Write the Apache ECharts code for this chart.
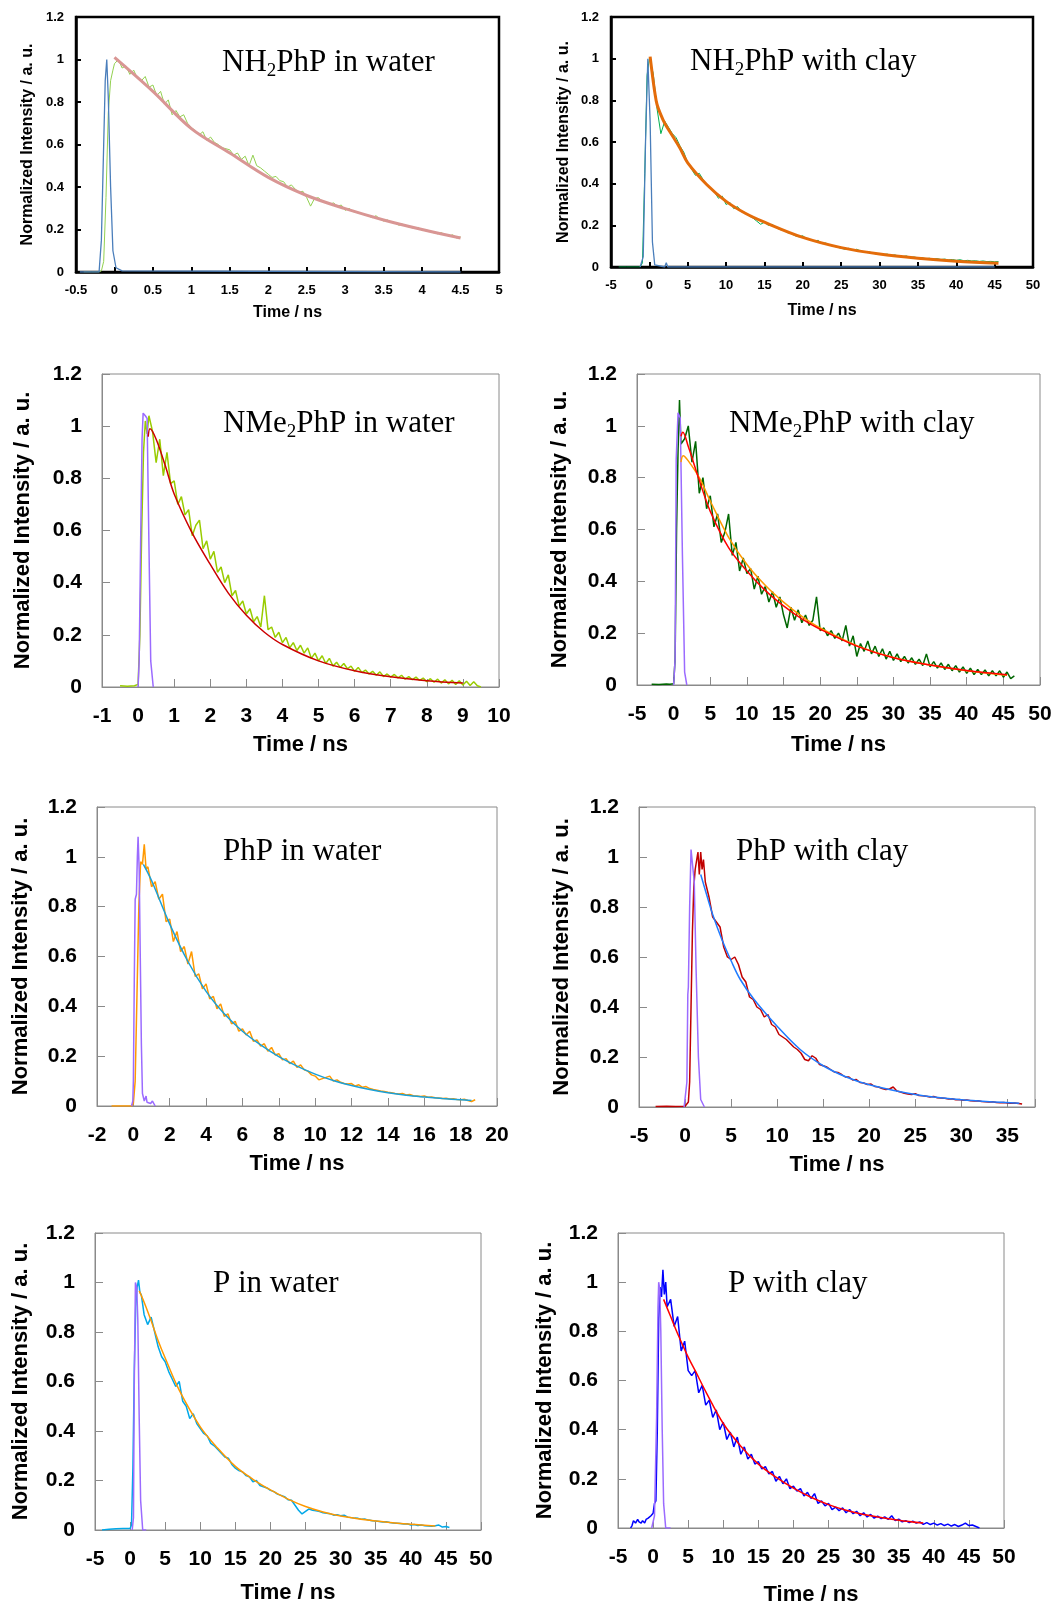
<!DOCTYPE html>
<html><head><meta charset="utf-8">
<script src="https://cdn.jsdelivr.net/npm/echarts@6/dist/echarts.min.js"></script>
<style>html,body{margin:0;padding:0;background:#fff}#c{width:1064px;height:1607px}</style>
</head><body><div id="c"></div>
<script>
// ---------- Panel 1: NH2PhP in water ----------
const p1IrfT = [-0.45,-0.2,-0.17,-0.14,-0.12,-0.1,-0.08,-0.05,-0.02,0.02,0.1,4.5];
const p1IrfY = [0,0,0.15,0.6,0.9,1.0,0.82,0.4,0.1,0.02,0.005,0];
const p1DataT = [-0.4,-0.3,-0.2,-0.17,-0.14,-0.11,-0.08,-0.05,-0.02,
 0,0.05,0.1,0.15,0.2,0.25,0.3,0.35,0.4,0.45,0.5,0.55,0.6,0.65,0.7,0.75,0.8,0.85,0.9,0.95,
 1,1.05,1.1,1.15,1.2,1.25,1.3,1.35,1.4,1.45,1.5,1.55,1.6,1.65,1.7,1.75,1.8,1.85,1.9,1.95,
 2,2.05,2.1,2.15,2.2,2.25,2.3,2.35,2.4,2.45,2.5,2.55,2.6,2.65,2.7,2.75,2.8,2.85,2.9,2.95,
 3,3.05,3.1,3.15,3.2,3.25,3.3,3.35,3.4,3.45,3.5,3.55,3.6,3.65,3.7,3.75,3.8,3.85,3.9,3.95,
 4,4.05,4.1,4.15,4.2,4.25,4.3,4.35,4.4,4.45,4.5];
const p1DataY = [0,0,0,0.005,0.05,0.35,0.75,0.9,0.95,
 0.98,1.00,0.96,0.97,0.93,0.95,0.91,0.90,0.92,0.87,
 0.88,0.83,0.85,0.79,0.81,0.74,0.76,0.73,0.74,0.70,
 0.68,0.665,0.645,0.66,0.62,0.635,0.61,0.60,0.585,0.58,
 0.575,0.55,0.56,0.53,0.545,0.50,0.55,0.50,0.49,0.475,
 0.46,0.445,0.45,0.43,0.425,0.40,0.41,0.39,0.375,0.38,
 0.35,0.31,0.345,0.35,0.335,0.33,0.32,0.325,0.31,0.315,
 0.29,0.30,0.285,0.28,0.275,0.27,0.265,0.255,0.265,0.25,
 0.24,0.245,0.235,0.23,0.22,0.225,0.215,0.21,0.205,0.21,
 0.195,0.20,0.19,0.185,0.18,0.185,0.175,0.17,0.175,0.16,
 0.165];
const p1FitT = [0,0.5,1,1.5,2,2.5,3,3.5,4,4.5];
const p1FitY = [1.01,0.85,0.675,0.56,0.445,0.36,0.298,0.245,0.2,0.16];

// ---------- Panel 2: NH2PhP with clay ----------
const p2IrfT = [-1.2,-0.8,-0.5,-0.2,0.1,0.4,0.7,2.0,2.2,2.4,45];
const p2IrfY = [0,0.05,0.6,1.0,0.7,0.12,0.01,0,0.02,0,0];
const p2DataT = [-4,-3,-2,-1.2,-0.9,-0.6,-0.3,0,
 0.5,1,1.5,2,2.5,3,3.5,4,4.5,5,5.5,6,6.5,7,7.5,8,8.5,9,9.5,10,
 10.5,11,11.5,12,12.5,13,13.5,14,14.5,15,15.5,16,16.5,17,17.5,18,18.5,19,19.5,20,
 20.5,21,21.5,22,22.5,23,23.5,24,24.5,25,25.5,26,26.5,27,27.5,28,28.5,29,29.5,30,
 30.5,31,31.5,32,32.5,33,33.5,34,34.5,35,35.5,36,36.5,37,37.5,38,38.5,39,39.5,40,
 40.5,41,41.5,42,42.5,43,43.5,44,44.5,45,45.5];
const p2DataY = [0,0,0,0,0.02,0.45,0.92,1.0,
 0.93,0.76,0.64,0.70,0.67,0.64,0.62,0.58,0.55,0.50,
 0.47,0.44,0.45,0.42,0.39,0.38,0.36,0.33,0.34,0.30,
 0.31,0.28,0.29,0.265,0.26,0.245,0.235,0.22,0.205,0.215,
 0.20,0.205,0.19,0.18,0.175,0.165,0.16,0.15,0.145,0.15,
 0.135,0.13,0.125,0.128,0.112,0.115,0.105,0.10,0.095,0.09,
 0.085,0.09,0.08,0.085,0.078,0.072,0.075,0.068,0.063,0.065,
 0.06,0.062,0.055,0.058,0.052,0.05,0.053,0.046,0.048,0.044,
 0.045,0.04,0.042,0.038,0.04,0.036,0.038,0.034,0.036,0.032,
 0.035,0.03,0.032,0.029,0.03,0.027,0.029,0.026,0.027,0.025,
 0.026];
const p2FitT = [0.1,0.4,0.7,1,1.5,2,3,4,5,7.5,10,12.5,15,20,25,30,35,40,45.5];
const p2FitY = [1.01,0.92,0.84,0.78,0.73,0.69,0.63,0.57,0.5,0.395,0.315,0.258,0.215,0.142,0.093,0.062,0.042,0.028,0.018];

// ---------- Panel 3: NMe2PhP in water ----------
const p3IrfT = [0,0.03,0.07,0.11,0.14,0.2,0.25,0.3,0.35,0.42];
const p3IrfY = [0,0.1,0.55,0.95,1.05,1.04,1.03,0.55,0.1,0];
const p3DataT = [-0.5,-0.3,-0.1,0,0.05,0.1,0.15,0.2,0.25,0.3,
 0.4,0.5,0.6,0.7,0.8,0.9,1,1.1,1.2,1.3,
 1.4,1.5,1.6,1.7,1.8,1.9,2,2.1,2.2,2.3,
 2.4,2.5,2.6,2.7,2.8,2.9,3,3.1,3.2,3.3,
 3.4,3.5,3.6,3.7,3.8,3.9,4,4.1,4.2,4.3,
 4.4,4.5,4.6,4.7,4.8,4.9,5,5.1,5.2,5.3,
 5.4,5.5,5.6,5.7,5.8,5.9,6,6.1,6.2,6.3,
 6.4,6.5,6.6,6.7,6.8,6.9,7,7.1,7.2,7.3,
 7.4,7.5,7.6,7.7,7.8,7.9,8,8.1,8.2,8.3,
 8.4,8.5,8.6,8.7,8.8,8.9,9,9.1,9.2,9.3,
 9.4,9.5];
const p3DataY = [0.005,0.003,0.005,0.01,0.2,0.6,0.9,1.02,0.97,1.04,
 0.98,0.86,0.95,0.81,0.90,0.78,0.79,0.70,0.73,0.66,
 0.68,0.58,0.62,0.64,0.53,0.56,0.49,0.52,0.44,0.46,
 0.40,0.43,0.35,0.37,0.31,0.33,0.28,0.30,0.25,0.27,
 0.23,0.35,0.22,0.23,0.19,0.21,0.17,0.19,0.15,0.17,
 0.14,0.16,0.13,0.15,0.11,0.13,0.10,0.12,0.09,0.11,
 0.08,0.095,0.075,0.09,0.07,0.08,0.06,0.075,0.055,0.065,
 0.05,0.06,0.045,0.058,0.04,0.05,0.038,0.048,0.035,0.045,
 0.03,0.04,0.028,0.038,0.025,0.034,0.02,0.032,0.018,0.03,
 0.015,0.028,0.012,0.026,0.01,0.024,0.008,0.022,0.006,0.02,
 0.005,0.0];
const p3FitT = [0.28,0.33,0.5,0.75,1,1.5,2,2.5,3,3.5,4,5,6,7,8,9];
const p3FitY = [0.96,0.99,0.95,0.85,0.74,0.59,0.47,0.36,0.275,0.21,0.163,0.1,0.062,0.039,0.024,0.015];

// ---------- Panel 4: NMe2PhP with clay ----------
const p4IrfT = [0,0.2,0.35,0.6,0.9,1.2,1.5,1.8];
const p4IrfY = [0,0.1,0.87,1.05,1.03,0.5,0.05,0];
const p4DataT = [-3,-2,-1,-0.5,0,0.2,0.4,0.6,0.8,1.0,
 1.5,2,2.5,3,3.5,4,4.5,5,5.5,6,
 6.5,7,7.5,8,8.5,9,9.5,10,10.5,11,
 11.5,12,12.5,13,13.5,14,14.5,15,15.5,16,
 16.5,17,17.5,18,18.5,19,19.5,20,20.5,21,
 21.5,22,22.5,23,23.5,24,24.5,25,25.5,26,
 26.5,27,27.5,28,28.5,29,29.5,30,30.5,31,
 31.5,32,32.5,33,33.5,34,34.5,35,35.5,36,
 36.5,37,37.5,38,38.5,39,39.5,40,40.5,41,
 41.5,42,42.5,43,43.5,44,44.5,45,45.5,46,
 46.5];
const p4DataY = [0.003,0.002,0.004,0.003,0.005,0.1,0.6,0.9,1.1,0.93,
 0.95,1.0,0.86,0.94,0.74,0.80,0.68,0.73,0.61,0.66,
 0.55,0.59,0.66,0.50,0.55,0.44,0.49,0.43,0.45,0.37,
 0.42,0.35,0.38,0.32,0.36,0.30,0.34,0.27,0.22,0.30,
 0.25,0.29,0.24,0.27,0.23,0.25,0.34,0.21,0.22,0.19,
 0.21,0.18,0.20,0.17,0.23,0.15,0.19,0.11,0.16,0.13,
 0.17,0.12,0.15,0.11,0.14,0.10,0.13,0.095,0.12,0.09,
 0.11,0.085,0.105,0.08,0.10,0.075,0.12,0.07,0.09,0.065,
 0.085,0.06,0.08,0.055,0.075,0.05,0.07,0.045,0.065,0.04,
 0.06,0.04,0.058,0.035,0.055,0.035,0.055,0.03,0.05,0.025,
 0.035];
const p4FitRedT = [1.0,1.25,2,3.5,5,7.5,10,12.5,15,17.5,20,25,30,35,40,45.5];
const p4FitRedY = [0.96,0.975,0.92,0.79,0.67,0.53,0.44,0.365,0.305,0.255,0.215,0.15,0.105,0.077,0.056,0.04];
const p4FitOrgT = [1.0,1.3,2,3.5,5,7.5,10,12.5,15,17.5,20,25,30,35,40,45.5];
const p4FitOrgY = [0.86,0.885,0.865,0.8,0.71,0.57,0.465,0.385,0.32,0.265,0.22,0.152,0.106,0.077,0.055,0.038];

// ---------- Panel 5: PhP in water ----------
const p5IrfT = [-0.1,-0.03,0.0,0.05,0.1,0.17,0.22,0.26,0.32,0.38,0.44,0.5,0.6,0.7,0.75,0.85,0.95,1.05,1.15,1.2];
const p5IrfY = [0,0.02,0.1,0.5,0.83,0.85,1.0,1.08,0.95,0.6,0.25,0.05,0.02,0.04,0.015,0.02,0.01,0.02,0.015,0];
const p5DataT = [-1.2,-0.6,-0.1,0,0.1,0.2,0.3,0.4,0.5,0.6,0.7,
 0.8,1,1.2,1.4,1.6,1.8,2,2.2,2.4,2.6,
 2.8,3,3.2,3.4,3.6,3.8,4,4.2,4.4,4.6,
 4.8,5,5.2,5.4,5.6,5.8,6,6.2,6.4,6.6,
 6.8,7,7.2,7.4,7.6,7.8,8,8.2,8.4,8.6,
 8.8,9,9.2,9.4,9.6,9.8,10,10.2,10.4,10.6,
 10.8,11,11.2,11.4,11.6,11.8,12,12.2,12.4,12.6,
 12.8,13,13.2,13.4,13.6,13.8,14,14.2,14.4,14.6,
 14.8,15,15.2,15.4,15.6,15.8,16,16.2,16.4,16.6,
 16.8,17,17.2,17.4,17.6,17.8,18,18.2,18.4,18.6,
 18.8];
const p5DataY = [0,0,0,0.01,0.1,0.45,0.8,0.98,0.97,1.05,0.95,
 0.96,0.88,0.90,0.83,0.85,0.74,0.75,0.66,0.70,0.62,
 0.64,0.57,0.62,0.52,0.53,0.47,0.49,0.43,0.44,0.39,
 0.41,0.36,0.37,0.33,0.34,0.30,0.31,0.285,0.30,0.26,
 0.265,0.24,0.25,0.22,0.235,0.205,0.21,0.185,0.19,0.17,
 0.18,0.155,0.165,0.145,0.14,0.125,0.12,0.105,0.11,0.115,
 0.12,0.10,0.105,0.095,0.09,0.088,0.09,0.08,0.085,0.075,
 0.078,0.07,0.066,0.063,0.06,0.058,0.055,0.053,0.05,0.048,
 0.05,0.044,0.046,0.041,0.04,0.038,0.04,0.035,0.036,0.033,
 0.032,0.03,0.031,0.028,0.029,0.026,0.025,0.027,0.022,0.018,
 0.025];
const p5FitT = [0.55,1,2,3,4,5,6,7,8,9,10,11,12,13,14,15,16,17,18,18.6];
const p5FitY = [0.97,0.905,0.73,0.58,0.46,0.37,0.30,0.245,0.198,0.16,0.128,0.102,0.082,0.066,0.053,0.043,0.036,0.03,0.025,0.022];

// ---------- Panel 6: PhP with clay ----------
const p6IrfT = [-0.1,0.2,0.3,0.36,0.5,0.65,0.8,1.0,1.2,1.45,1.7,2.1];
const p6IrfY = [0,0.1,0.45,0.48,0.8,1.03,1.03,0.9,0.55,0.2,0.03,0];
const p6DataT = [-3.2,-2,-1,0,0.36,0.5,0.65,0.8,0.95,1.1,1.25,1.4,1.55,1.7,1.85,2.0,2.2,
 2.6,3,3.4,3.8,4.2,4.6,5,5.4,5.8,6.2,
 6.6,7,7.4,7.8,8.2,8.6,9,9.4,9.8,10.2,
 10.6,11,11.4,11.8,12.2,12.6,13,13.4,13.8,14.2,
 14.6,15,15.4,15.8,16.2,16.6,17,17.4,17.8,18.2,
 18.6,19,19.4,19.8,20.2,20.6,21,21.4,21.8,22.2,
 22.6,23,23.4,23.8,24.2,24.6,25,25.4,25.8,26.2,
 26.6,27,27.4,27.8,28.2,28.6,29,29.4,29.8,30.2,
 30.6,31,31.4,31.8,32.2,32.6,33,33.4,33.8,34.2,
 34.6,35,35.4,35.8,36.2,36.6];
const p6DataY = [0.002,0.003,0.002,0.003,0.02,0.1,0.4,0.7,0.88,0.95,0.95,1.02,0.93,1.02,0.95,0.99,0.9,
 0.84,0.76,0.74,0.72,0.64,0.60,0.59,0.60,0.57,0.52,
 0.50,0.44,0.43,0.40,0.39,0.36,0.37,0.33,0.32,0.29,
 0.28,0.27,0.255,0.24,0.23,0.215,0.19,0.185,0.205,0.195,
 0.17,0.165,0.16,0.15,0.14,0.138,0.13,0.12,0.12,0.108,
 0.11,0.098,0.096,0.09,0.092,0.082,0.08,0.074,0.07,0.072,
 0.08,0.064,0.06,0.055,0.052,0.05,0.053,0.046,0.045,0.043,
 0.04,0.042,0.037,0.036,0.035,0.032,0.033,0.029,0.03,0.027,
 0.028,0.025,0.024,0.025,0.022,0.021,0.02,0.021,0.018,0.017,
 0.018,0.016,0.015,0.016,0.014,0.012];
const p6FitT = [1.7,2.5,3,4,5,6,7.5,10,12.5,15,17.5,20,25,30,36.3];
const p6FitY = [0.93,0.83,0.77,0.67,0.585,0.51,0.43,0.323,0.23,0.165,0.12,0.089,0.05,0.029,0.015];

// ---------- Panel 7: P in water ----------
const p7IrfT = [0.3,0.48,0.6,0.76,0.95,1.1,1.3,1.5,1.8,2.3];
const p7IrfY = [0,0.05,0.6,1.0,0.98,0.85,0.45,0.12,0,0];
const p7DataT = [-4,-3,-2,-1,0,0.2,0.4,0.6,0.8,1.0,1.2,1.4,1.6,
 2,2.5,3,3.5,4,4.5,5,5.5,6,6.5,
 7,7.5,8,8.5,9,9.5,10,10.5,11,11.5,
 12,12.5,13,13.5,14,14.5,15,15.5,16,16.5,
 17,17.5,18,18.5,19,19.5,20,20.5,21,21.5,
 22,22.5,23,23.5,24,24.5,25,25.5,26,26.5,
 27,27.5,28,28.5,29,29.5,30,30.5,31,31.5,
 32,32.5,33,33.5,34,34.5,35,35.5,36,36.5,
 37,37.5,38,38.5,39,39.5,40,40.5,41,41.5,
 42,42.5,43,43.5,44,44.5,45,45.5];
const p7DataY = [0,0.003,0.005,0.006,0.006,0.02,0.25,0.65,0.9,0.98,1.01,0.96,0.95,
 0.87,0.83,0.86,0.80,0.74,0.70,0.68,0.64,0.61,0.58,
 0.60,0.52,0.50,0.45,0.47,0.43,0.41,0.39,0.38,0.35,
 0.34,0.325,0.31,0.295,0.29,0.265,0.25,0.24,0.235,0.22,
 0.215,0.195,0.2,0.18,0.175,0.17,0.16,0.155,0.145,0.14,
 0.135,0.122,0.12,0.1,0.08,0.065,0.075,0.085,0.08,0.078,
 0.075,0.07,0.068,0.066,0.06,0.062,0.058,0.06,0.052,0.05,
 0.048,0.047,0.043,0.044,0.04,0.037,0.036,0.034,0.032,0.033,
 0.03,0.028,0.027,0.026,0.024,0.025,0.02,0.022,0.018,0.02,
 0.017,0.016,0.015,0.017,0.02,0.012,0.014,0.01];
const p7FitT = [1.3,2,3,4,5,7,10,12.5,15,17.5,20,22.5,25,27.5,30,35,40,43.5];
const p7FitY = [0.966,0.92,0.845,0.765,0.695,0.565,0.417,0.33,0.257,0.205,0.162,0.125,0.095,0.073,0.057,0.036,0.023,0.016];

// ---------- Panel 8: P with clay ----------
const p8IrfT = [-0.2,0.2,0.5,0.7,0.8,0.95,1.1,1.3,1.5,1.8,2.5];
const p8IrfY = [0,0.05,0.45,0.9,1.0,0.97,0.8,0.4,0.1,0,0];
const p8DataT = [-3.2,-3,-2.8,-2.5,-2.2,-2,-1.7,-1.5,-1.2,-1,-0.7,-0.5,-0.3,0,0.2,0.4,0.6,0.8,1.0,1.2,1.4,1.6,1.8,2.0,
 2.5,3,3.5,4,4.5,5,5.5,6,6.5,7,
 7.5,8,8.5,9,9.5,10,10.5,11,11.5,12,
 12.5,13,13.5,14,14.5,15,15.5,16,16.5,17,
 17.5,18,18.5,19,19.5,20,20.5,21,21.5,22,
 22.5,23,23.5,24,24.5,25,25.5,26,26.5,27,
 27.5,28,28.5,29,29.5,30,30.5,31,31.5,32,
 32.5,33,33.5,34,34.5,35,35.5,36,36.5,37,
 37.5,38,38.5,39,39.5,40,40.5,41,41.5,42,
 42.5,43,43.5,44,44.5,45,45.5,46,46.5];
const p8DataY = [0,0.01,0.03,0.02,0.035,0.025,0.02,0.03,0.02,0.035,0.04,0.045,0.05,0.06,0.1,0.11,0.4,0.85,0.98,0.94,1.05,0.95,1.0,0.9,
 0.93,0.82,0.86,0.72,0.76,0.64,0.62,0.64,0.55,0.58,
 0.50,0.52,0.45,0.48,0.40,0.43,0.36,0.39,0.33,0.37,
 0.30,0.33,0.28,0.30,0.26,0.27,0.24,0.25,0.22,0.23,
 0.19,0.21,0.18,0.20,0.16,0.17,0.15,0.16,0.13,0.145,
 0.12,0.14,0.10,0.11,0.09,0.10,0.075,0.085,0.07,0.082,
 0.062,0.075,0.058,0.068,0.05,0.062,0.045,0.055,0.04,0.048,
 0.038,0.045,0.035,0.05,0.03,0.036,0.025,0.03,0.022,0.028,
 0.02,0.025,0.015,0.022,0.014,0.02,0.012,0.018,0.01,0.016,
 0.008,0.014,0.006,0.012,0.02,0.01,0.012,0.006,0.0];
const p8FitT = [1.5,2.5,3.5,5,6,7.5,10,12.5,15,17.5,20,22.5,25,27.5,30,35,38.5];
const p8FitY = [0.93,0.86,0.79,0.695,0.64,0.555,0.425,0.333,0.26,0.207,0.162,0.125,0.095,0.072,0.055,0.032,0.02];

// ---------- shared ----------
const yTicks = [0, 0.2, 0.4, 0.6, 0.8, 1, 1.2];
const pairs = (t, y) => t.map((x, i) => [x, y[i]]);

const panels = [
 {grid:[76,17,423,255], x:[-0.5,5,0.5], heavy:true, title:['NH','2','PhP in water'], tpos:[222,71], xGap:33, yGap:40,
  series:[[p1DataT,p1DataY,'#92D050',1],[p1IrfT,p1IrfY,'#4A7EBB',1.3],[p1FitT,p1FitY,'#D99694',3,true]]},
 {grid:[611,17,422,250], x:[-5,50,5], heavy:true, title:['NH','2','PhP with clay'], tpos:[690,70], xGap:36, yGap:39,
  series:[[p2DataT,p2DataY,'#00B050',1],[p2IrfT,p2IrfY,'#4A7EBB',1.3],[p2FitT,p2FitY,'#E46C0A',3,true]]},
 {grid:[102,374,397,313], x:[-1,10,1], title:['NMe','2','PhP in water'], tpos:[223,432], xGap:47, yGap:68,
  series:[[p3DataT,p3DataY,'#99CC00',1.5],[p3IrfT,p3IrfY,'#9B6BFF',1.5],[p3FitT,p3FitY,'#CC0000',1.5,true]]},
 {grid:[637,374,403,311], x:[-5,50,5], title:['NMe','2','PhP with clay'], tpos:[729,432], xGap:49, yGap:66,
  series:[[p4DataT,p4DataY,'#006600',1.5],[p4IrfT,p4IrfY,'#9B6BFF',1.5],[p4FitOrgT,p4FitOrgY,'#FF9900',1.5,true],[p4FitRedT,p4FitRedY,'#FF0000',1.5,true]]},
 {grid:[97,807,400,299], x:[-2,20,2], title:['PhP in water'], tpos:[223,860], xGap:47, yGap:65,
  series:[[p5DataT,p5DataY,'#FF9900',1.5],[p5IrfT,p5IrfY,'#9B6BFF',1.5],[p5FitT,p5FitY,'#1AA0D8',1.5,true]]},
 {grid:[639,807,396,300], x:[-5,38,5], title:['PhP with clay'], tpos:[736,860], xGap:47, yGap:66,
  series:[[p6DataT,p6DataY,'#C00000',1.5],[p6IrfT,p6IrfY,'#9B6BFF',1.5],[p6FitT,p6FitY,'#1F7BFF',1.5,true]]},
 {grid:[95,1233,386,297], x:[-5,50,5], title:['P in water'], tpos:[213,1292], xGap:52, yGap:63,
  series:[[p7DataT,p7DataY,'#00A8E8',1.5],[p7IrfT,p7IrfY,'#9B6BFF',1.5],[p7FitT,p7FitY,'#FF9900',1.5,true]]},
 {grid:[618,1233,386,295], x:[-5,50,5], title:['P with clay'], tpos:[728,1292], xGap:56, yGap:62,
  series:[[p8DataT,p8DataY,'#0000FF',1.5],[p8IrfT,p8IrfY,'#9B6BFF',1.5],[p8FitT,p8FitY,'#FF0000',1.5,true]]}
];

const option = {animation:false, backgroundColor:'#ffffff', grid:[], xAxis:[], yAxis:[], series:[], graphic:[]};
const SANS = "'Liberation Sans', Arial, sans-serif";
const SERIF = "'Liberation Serif', 'Times New Roman', serif";

panels.forEach((p, i) => {
  const heavy = !!p.heavy;
  const lineCol = heavy ? '#000' : '#8a8a8a';
  const tickFont = heavy ? 13 : 21;
  const nameFont = heavy ? 16 : 22;
  option.grid.push({left:p.grid[0], top:p.grid[1], width:p.grid[2], height:p.grid[3], show:true,
    borderColor: lineCol, borderWidth: heavy ? 2.5 : 1, backgroundColor:'#fff', containLabel:false});
  const [xmin, xmax, xint] = p.x;
  option.xAxis.push({type:'value', gridIndex:i, min:xmin, max:xmax, interval:xint,
    splitLine:{show:false},
    axisLine:{show:true, onZero:false, lineStyle:{color:lineCol, width: heavy ? 2.5 : 1}},
    axisTick:{show:true, inside:true, length: heavy ? 5 : 8, lineStyle:{color:lineCol, width: heavy ? 2 : 1}},
    axisLabel:{color:'#000', fontFamily:SANS, fontWeight:'bold', fontSize:tickFont, margin: heavy ? 12 : 19,
      formatter: v => (Math.abs(v / xint - Math.round(v / xint)) < 1e-6) ? String(+v.toFixed(2)) : ''},
    name:'Time / ns', nameLocation:'middle', nameGap:p.xGap,
    nameTextStyle:{color:'#000', fontFamily:SANS, fontWeight:'bold', fontSize:nameFont}});
  option.yAxis.push({type:'value', gridIndex:i, min:0, max:1.2, interval:0.2,
    splitLine:{show:false},
    axisLine:{show:true, onZero:false, lineStyle:{color:lineCol, width: heavy ? 2.5 : 1}},
    axisTick:{show:true, inside:true, length: heavy ? 5 : 8, lineStyle:{color:lineCol, width: heavy ? 2 : 1}},
    axisLabel:{color:'#000', fontFamily:SANS, fontWeight:'bold', fontSize:tickFont, margin: heavy ? 12 : 20,
      formatter: v => { const k = yTicks.find(t => Math.abs(t - v) < 1e-6); return k === undefined ? '' : String(k); }},
    name:'Normalized Intensity / a. u.', nameLocation:'middle', nameGap:p.yGap,
    nameTextStyle:{color:'#000', fontFamily:SANS, fontWeight:'bold', fontSize:nameFont}});
  p.series.forEach(s => {
    option.series.push({type:'line', xAxisIndex:i, yAxisIndex:i, data:pairs(s[0], s[1]),
      showSymbol:false, symbol:'none', smooth: s[4] ? 0.35 : false, clip:true,
      lineStyle:{color:s[2], width:s[3]}, itemStyle:{color:s[2]}, silent:true});
  });
  const t = p.title;
  const txt = t.length === 3 ? '{a|' + t[0] + '}{s|' + t[1] + '}{a|' + t[2] + '}' : '{a|' + t[0] + '}';
  option.graphic.push({type:'text', left:p.tpos[0], top:p.tpos[1] - 24, z:100,
    style:{text:txt, fill:'#000',
      rich:{a:{fontFamily:SERIF, fontSize:31, lineHeight:36, fill:'#000'},
            s:{fontFamily:SERIF, fontSize:19, lineHeight:20, verticalAlign:'bottom', fill:'#000'}}}});
});

const chart = echarts.init(document.getElementById('c'), null, {renderer:'canvas', width:1064, height:1607});
chart.setOption(option);
</script></body></html>
